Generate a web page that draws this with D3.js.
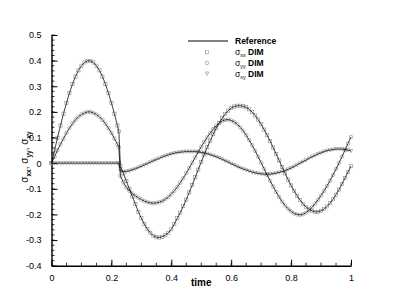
<!DOCTYPE html>
<html><head><meta charset="utf-8">
<script src="https://cdn.jsdelivr.net/npm/d3@7"></script>
<style>body{margin:0;background:#fff}svg{display:block}text{font-family:"Liberation Sans",Arial,sans-serif}</style>
</head><body>
<script>
const times = [0,0.01,0.02,0.03,0.04,0.05,0.06,0.07,0.08,0.09,0.10,0.11,0.12,0.13,0.14,0.15,0.16,0.17,0.18,0.19,0.20,0.21,0.22,0.225,
0.23,0.24,0.25,0.26,0.27,0.28,0.29,0.30,
0.31,0.32,0.33,0.34,0.35,0.36,0.37,0.38,0.39,0.40,
0.41,0.42,0.43,0.44,0.45,0.46,0.47,0.48,0.49,0.50,
0.51,0.52,0.53,0.54,0.55,0.56,0.57,0.58,0.59,0.60,
0.61,0.62,0.63,0.64,0.65,0.66,0.67,0.68,0.69,0.70,
0.71,0.72,0.73,0.74,0.75,0.76,0.77,0.78,0.79,0.80,
0.81,0.82,0.83,0.84,0.85,0.86,0.87,0.88,0.89,0.90,
0.91,0.92,0.93,0.94,0.95,0.96,0.97,0.98,0.99,1.00];

const sigmaXX = [0,0.050,0.099,0.147,0.193,0.235,0.274,0.308,0.338,0.362,0.380,0.393,0.399,0.399,0.393,0.380,0.362,0.338,0.308,0.274,0.235,0.193,0.147,0.124,
-0.010,-0.040,-0.070,-0.100,-0.130,-0.160,-0.190,-0.215,
-0.238,-0.257,-0.272,-0.283,-0.289,-0.290,-0.287,-0.281,-0.272,-0.258,
-0.238,-0.215,-0.193,-0.168,-0.142,-0.114,-0.085,-0.055,-0.025,0.005,
0.034,0.062,0.088,0.113,0.136,0.157,0.176,0.192,0.205,0.215,
0.221,0.224,0.224,0.222,0.218,0.210,0.199,0.186,0.170,0.152,
0.131,0.109,0.086,0.061,0.036,0.011,-0.015,-0.040,-0.064,-0.087,
-0.108,-0.127,-0.144,-0.159,-0.171,-0.180,-0.186,-0.190,-0.190,-0.186,
-0.179,-0.169,-0.156,-0.141,-0.123,-0.103,-0.081,-0.058,-0.035,-0.012];

const sigmaYY = [0,0.025,0.050,0.074,0.096,0.118,0.137,0.154,0.169,0.181,0.190,0.196,0.200,0.200,0.196,0.190,0.181,0.169,0.154,0.137,0.118,0.096,0.074,0.062,
-0.050,-0.075,-0.095,-0.108,-0.118,-0.127,-0.135,-0.142,
-0.148,-0.152,-0.155,-0.156,-0.155,-0.152,-0.148,-0.141,-0.132,-0.121,
-0.108,-0.093,-0.076,-0.058,-0.039,-0.019,0.002,0.023,0.044,0.064,
0.083,0.101,0.118,0.133,0.146,0.157,0.165,0.169,0.170,0.167,
0.161,0.152,0.140,0.126,0.109,0.090,0.070,0.048,0.025,0.002,
-0.022,-0.046,-0.069,-0.091,-0.112,-0.132,-0.150,-0.165,-0.178,-0.188,
-0.196,-0.200,-0.202,-0.199,-0.193,-0.184,-0.172,-0.158,-0.143,-0.126,
-0.108,-0.089,-0.068,-0.046,-0.023,0.001,0.026,0.051,0.077,0.102];

const sigmaXY = [0,0,0,0,0,0,0,0,0,0,0,0,0,0,0,0,0,0,0,0,0,0,0,0,
-0.030,-0.033,-0.032,-0.030,-0.026,-0.022,-0.017,-0.012,
-0.007,-0.002,0.004,0.009,0.014,0.019,0.024,0.028,0.032,0.036,
0.039,0.041,0.043,0.044,0.045,0.045,0.045,0.045,0.044,0.042,
0.040,0.037,0.033,0.029,0.025,0.020,0.015,0.009,0.004,-0.002,
-0.007,-0.013,-0.018,-0.023,-0.027,-0.031,-0.035,-0.038,-0.040,-0.042,
-0.043,-0.043,-0.043,-0.041,-0.039,-0.036,-0.033,-0.029,-0.024,-0.019,
-0.013,-0.007,0.000,0.006,0.012,0.019,0.025,0.030,0.036,0.040,
0.045,0.049,0.051,0.053,0.055,0.055,0.055,0.053,0.051,0.048];

const xTicks = [0,0.2,0.4,0.6,0.8,1];
const xTickLabels = ["0","0.2","0.4","0.6","0.8","1"];
const yTicks = [-0.4,-0.3,-0.2,-0.1,0,0.1,0.2,0.3,0.4,0.5];
const yTickLabels = ["-0.4","-0.3","-0.2","-0.1","0","0.1","0.2","0.3","0.4","0.5"];
const seriesSubs = ["xx","yy","xy"];
const seriesShapes = ["square","circle","triangle"];

const W = 399, H = 299;
const svg = d3.select("body").append("svg").attr("width", W).attr("height", H);
const x = d3.scaleLinear().domain([0,1]).range([51.5,351]);
const y = d3.scaleLinear().domain([-0.4,0.5]).range([265.7,35]);

// minor ticks
const g = svg.append("g");
const xMinor = d3.range(0,1.0001,0.05);
const yMinor = d3.range(-0.4,0.5001,0.02);
g.selectAll(".xm").data(xMinor).join("line")
  .attr("x1",d=>x(d)).attr("x2",d=>x(d)).attr("y1",y(-0.4)).attr("y2",y(-0.4)-3)
  .attr("stroke","#000").attr("stroke-width",0.8);
g.selectAll(".ym").data(yMinor).join("line")
  .attr("x1",x(0)).attr("x2",x(0)+3).attr("y1",d=>y(d)).attr("y2",d=>y(d))
  .attr("stroke","#000").attr("stroke-width",0.8);

// axes
const xAxis = d3.axisBottom(x).tickValues(xTicks).tickFormat((d,i)=>xTickLabels[i]).tickSizeInner(-6).tickSizeOuter(0).tickPadding(9);
const yAxis = d3.axisLeft(y).tickValues(yTicks).tickFormat((d,i)=>yTickLabels[i]).tickSizeInner(-6).tickSizeOuter(0).tickPadding(10);
const gx = svg.append("g").attr("transform",`translate(0,${y(-0.4)})`).call(xAxis);
const gy = svg.append("g").attr("transform",`translate(${x(0)},0)`).call(yAxis);
[gx,gy].forEach(a=>{
  a.select(".domain").attr("stroke","#000").attr("stroke-width",1.4);
  a.selectAll(".tick line").attr("stroke","#000").attr("stroke-width",1);
  a.selectAll(".tick text").attr("font-size",9).attr("fill","#000").attr("font-family","Liberation Sans, Arial, sans-serif");
});

// data
const series = [sigmaXX, sigmaYY, sigmaXY];
const line = d3.line().x((d,i)=>x(times[i])).y(d=>y(d));
const markerColor = "#8c8c8c";
function drawMarker(sel, shape, cx, cy) {
  if (shape==="square") {
    sel.append("rect").attr("x",cx-1.6).attr("y",cy-1.6).attr("width",3.2).attr("height",3.2)
      .attr("fill","none").attr("stroke",markerColor).attr("stroke-width",0.6);
  } else if (shape==="circle") {
    sel.append("circle").attr("cx",cx).attr("cy",cy).attr("r",1.8)
      .attr("fill","none").attr("stroke",markerColor).attr("stroke-width",0.6);
  } else {
    sel.append("path").attr("d",`M${cx-1.8},${cy-1.5}L${cx+1.8},${cy-1.5}L${cx},${cy+1.8}Z`)
      .attr("fill","none").attr("stroke",markerColor).attr("stroke-width",0.6);
  }
}
series.forEach((s,k)=>{
  const mg = svg.append("g");
  s.forEach((v,i)=>drawMarker(mg, seriesShapes[k], x(times[i]), y(v)));
});
series.forEach(s=>{
  svg.append("path").datum(s).attr("d",line).attr("fill","none").attr("stroke","#000").attr("stroke-width",0.75);
});

// legend
const lg = svg.append("g");
lg.append("line").attr("x1",188).attr("x2",228).attr("y1",41).attr("y2",41).attr("stroke","#000").attr("stroke-width",1.2);
lg.append("text").attr("x",235).attr("y",44.2).attr("font-size",8.5).attr("font-weight","bold").text("Reference");
seriesSubs.forEach((sub,k)=>{
  const yy = 52.3 + k*10.6;
  drawMarker(lg, seriesShapes[k], 207, yy);
  const t = lg.append("text").attr("x",235).attr("y",yy+3).attr("font-size",8.5);
  t.append("tspan").text("σ");
  t.append("tspan").attr("font-size",5.5).attr("dy",2).text(sub);
  t.append("tspan").attr("dy",-2).attr("font-weight","bold").text(" DIM");
});

// axis titles
svg.append("text").attr("x",(x(0)+x(1))/2).attr("y",286).attr("text-anchor","middle")
  .attr("font-size",10).attr("font-weight","bold").text("time");
const yl = svg.append("text").attr("transform","translate(28,157) rotate(-90)").attr("text-anchor","middle").attr("font-size",10);
seriesSubs.forEach((sub,k)=>{
  yl.append("tspan").text("σ");
  yl.append("tspan").attr("font-size",6.5).attr("dy",2.5).attr("font-weight","bold").text(sub);
  yl.append("tspan").attr("dy",-2.5).text(k<2?", ":"");
});
</script>
</body></html>
